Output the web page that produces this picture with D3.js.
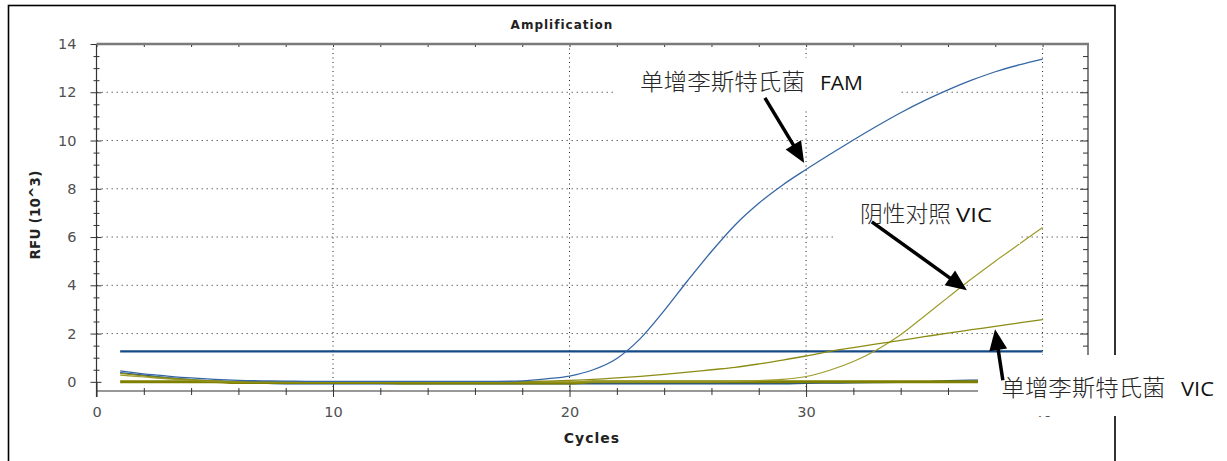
<!DOCTYPE html>
<html>
<head>
<meta charset="utf-8">
<script src="https://cdn.jsdelivr.net/npm/d3@7"></script>
<style>
  body { margin: 0; background: #fff; }
  .tick text { font-family: "DejaVu Sans", sans-serif; font-size: 14.5px; fill: #505050; }
</style>
</head>
<body>
<svg id="chart" width="1227" height="461"></svg>
<script>
"use strict";

// cycle numbers (x)
var cycles = [1, 2, 3, 4, 5, 6, 7, 8, 9, 10, 11, 12, 13, 14, 15, 16, 17, 18, 19, 20,
              21, 22, 23, 24, 25, 26, 27, 28, 29, 30, 31, 32, 33, 34, 35, 36, 37, 38, 39, 40];

// RFU (10^3) per cycle
var famListeria = [0.45, 0.33, 0.24, 0.16, 0.10, 0.06, 0.04, 0.03, 0.02, 0.02,
                   0.02, 0.02, 0.02, 0.02, 0.02, 0.02, 0.02, 0.04, 0.12, 0.24,
                   0.50, 0.97, 1.80, 2.95, 4.20, 5.40, 6.50, 7.40, 8.15, 8.80,
                   9.42, 10.02, 10.60, 11.15, 11.65, 12.10, 12.50, 12.85, 13.13, 13.37];
var vicListeria = [0.35, 0.25, 0.16, 0.09, 0.04, 0.02, 0.01, 0.01, 0.01, 0.01,
                   0.01, 0.01, 0.01, 0.01, 0.01, 0.01, 0.01, 0.01, 0.03, 0.06,
                   0.10, 0.16, 0.23, 0.31, 0.40, 0.50, 0.60, 0.74, 0.90, 1.07,
                   1.26, 1.42, 1.57, 1.72, 1.87, 2.02, 2.16, 2.30, 2.44, 2.58];
var vicNegative = [0.28, 0.20, 0.12, 0.06, 0.02, 0.0, 0.0, 0.0, 0.0, 0.0,
                   0.0, 0.0, 0.0, 0.0, 0.0, 0.0, 0.0, 0.0, 0.0, 0.0,
                   0.0, 0.0, 0.0, 0.0, 0.0, 0.0, 0.02, 0.05, 0.10, 0.22,
                   0.48, 0.84, 1.33, 1.95, 2.72, 3.50, 4.27, 5.00, 5.70, 6.40];
var famNegative = [0.38, 0.27, 0.17, 0.09, 0.03, -0.03, -0.06, -0.08, -0.08, -0.08,
                   -0.08, -0.08, -0.08, -0.08, -0.08, -0.08, -0.08, -0.08, -0.08, -0.08,
                   -0.08, -0.08, -0.08, -0.08, -0.08, -0.08, -0.08, -0.08, -0.08, -0.06,
                   -0.05, -0.04, -0.03, -0.02, 0.0, 0.05, 0.07, 0.07, 0.07, 0.07];
var vicBlank = [0.0, 0.0, 0.0, 0.0, 0.0, -0.03, -0.03, -0.03, -0.03, -0.03,
                -0.03, -0.03, -0.05, -0.05, -0.05, -0.05, -0.05, -0.05, -0.05, -0.05,
                0.0, 0.0, 0.0, 0.0, 0.0, 0.0, 0.0, 0.0, 0.0, 0.0,
                0.0, 0.0, 0.0, 0.0, 0.0, 0.0, 0.0, 0.0, 0.0, 0.0];

var threshold = 1.26;

var yMajorTicks = [0, 2, 4, 6, 8, 10, 12, 14];
var yMinorTicks = [0.5, 1, 1.5, 2.5, 3, 3.5, 4.5, 5, 5.5, 6.5, 7, 7.5, 8.5, 9, 9.5,
                   10.5, 11, 11.5, 12.5, 13, 13.5];
var xMajorTicks = [0, 10, 20, 30, 40];
var xMinorTicks = [2, 4, 6, 8, 12, 14, 16, 18, 22, 24, 26, 28, 32, 34, 36, 38];

var series = [
    { name: 'famNegative', values: famNegative, color: '#1d528f', width: 1.4 },
    { name: 'vicBlank', values: vicBlank, color: '#808000', width: 3 },
    { name: 'vicNegative', values: vicNegative, color: '#9c9c2a', width: 1.2 },
    { name: 'vicListeria', values: vicListeria, color: '#8c8c14', width: 1.3 },
    { name: 'famListeria', values: famListeria, color: '#3567a4', width: 1.3 }
];

var svg = d3.select('#chart');

var x = d3.scaleLinear().domain([0, 41.92]).range([96.5, 1088]);
var y = d3.scaleLinear().domain([-0.38, 14]).range([391, 44]);

var plotLeft = x.range()[0], plotRight = x.range()[1];
var plotTop = y(14), plotBottom = y.range()[0];

// outer frame
svg.append('rect')
    .attr('x', 8.5).attr('y', 5.5)
    .attr('width', 1106.5).attr('height', 470)
    .attr('fill', 'none').attr('stroke', '#000').attr('stroke-width', 1.6);

svg.append('text')
    .attr('x', 562).attr('y', 29)
    .attr('text-anchor', 'middle')
    .style('font-family', '"DejaVu Sans", sans-serif')
    .style('font-weight', 'bold').style('font-size', '12px')
    .style('letter-spacing', '1px').style('fill', '#222')
    .text('Amplification');

// grid
var grid = svg.append('g');
grid.selectAll('line.h')
    .data([2, 4, 6, 8, 10, 12])
    .enter().append('line')
    .attr('x1', plotLeft).attr('x2', plotRight)
    .attr('y1', function(d) { return y(d); }).attr('y2', function(d) { return y(d); })
    .attr('stroke', '#6a6a6a').attr('stroke-width', 1)
    .attr('stroke-dasharray', '1.5,3.5');
grid.selectAll('line.v')
    .data([10, 20, 30, 40])
    .enter().append('line')
    .attr('x1', function(d) { return x(d); }).attr('x2', function(d) { return x(d); })
    .attr('y1', plotTop).attr('y2', plotBottom)
    .attr('stroke', '#222').attr('stroke-width', 1)
    .attr('stroke-dasharray', '1,3.5');

// left axis (ticks cross the line)
function noDomain(g) { g.select('.domain').remove(); }

svg.append('g').attr('transform', 'translate(' + plotLeft + ',0)')
    .call(d3.axisLeft(y).tickValues(yMajorTicks).tickSize(6).tickPadding(14))
    .call(noDomain);
svg.append('g').attr('transform', 'translate(' + plotLeft + ',0)')
    .call(d3.axisRight(y).tickValues(yMajorTicks).tickSize(5).tickFormat(''))
    .call(noDomain);
svg.append('g').attr('transform', 'translate(' + plotLeft + ',0)')
    .call(d3.axisLeft(y).tickValues(yMinorTicks).tickSize(3).tickFormat(''))
    .call(noDomain);
svg.append('g').attr('transform', 'translate(' + plotLeft + ',0)')
    .call(d3.axisRight(y).tickValues(yMinorTicks).tickSize(3).tickFormat(''))
    .call(noDomain);

// right axis
svg.append('g').attr('transform', 'translate(' + plotRight + ',0)')
    .call(d3.axisLeft(y).tickValues(yMajorTicks).tickSize(8).tickFormat(''))
    .call(noDomain);
svg.append('g').attr('transform', 'translate(' + plotRight + ',0)')
    .call(d3.axisLeft(y).tickValues(yMinorTicks).tickSize(5).tickFormat(''))
    .call(noDomain);

// bottom axis
svg.append('g').attr('transform', 'translate(0,' + plotBottom + ')')
    .call(d3.axisBottom(x).tickValues(xMajorTicks).tickSize(6).tickPadding(10))
    .call(noDomain);
svg.append('g').attr('transform', 'translate(0,' + plotBottom + ')')
    .call(d3.axisTop(x).tickValues(xMajorTicks).tickSize(9).tickFormat(''))
    .call(noDomain);
svg.append('g').attr('transform', 'translate(0,' + plotBottom + ')')
    .call(d3.axisBottom(x).tickValues(xMinorTicks).tickSize(4).tickFormat(''))
    .call(noDomain);
svg.append('g').attr('transform', 'translate(0,' + plotBottom + ')')
    .call(d3.axisTop(x).tickValues(xMinorTicks).tickSize(3).tickFormat(''))
    .call(noDomain);

// top edge ticks
svg.append('g').attr('transform', 'translate(0,' + plotTop + ')')
    .call(d3.axisBottom(x).tickValues(xMinorTicks.concat(xMajorTicks)).tickSize(3).tickFormat(''))
    .call(noDomain);

svg.selectAll('.tick line').attr('stroke', '#333');

// axis lines
svg.append('line').attr('x1', plotLeft).attr('x2', plotLeft).attr('y1', plotTop).attr('y2', plotBottom + 6)
    .attr('stroke', '#333').attr('stroke-width', 1.2);
svg.append('line').attr('x1', plotLeft).attr('x2', plotRight).attr('y1', plotBottom).attr('y2', plotBottom)
    .attr('stroke', '#333').attr('stroke-width', 1.2);
svg.append('line').attr('x1', plotRight).attr('x2', plotRight).attr('y1', plotTop).attr('y2', plotBottom)
    .attr('stroke', '#333').attr('stroke-width', 1.2);
svg.append('line').attr('x1', plotLeft).attr('x2', plotRight + 1).attr('y1', plotTop).attr('y2', plotTop)
    .attr('stroke', '#7a7a7a').attr('stroke-width', 2.4);

svg.append('text')
    .attr('x', 592).attr('y', 443)
    .attr('text-anchor', 'middle')
    .style('font-family', '"DejaVu Sans", sans-serif')
    .style('font-weight', 'bold').style('font-size', '14px')
    .style('letter-spacing', '1px').style('fill', '#222')
    .text('Cycles');

svg.append('text')
    .attr('transform', 'translate(40,215) rotate(-90)')
    .attr('text-anchor', 'middle')
    .style('font-family', '"DejaVu Sans", sans-serif')
    .style('font-weight', 'bold').style('font-size', '13.5px')
    .style('letter-spacing', '0.2px').style('fill', '#222')
    .text('RFU (10^3)');

// threshold
svg.append('line')
    .attr('x1', x(cycles[0])).attr('x2', x(cycles[cycles.length - 1]))
    .attr('y1', y(threshold)).attr('y2', y(threshold))
    .attr('stroke', '#134a86').attr('stroke-width', 2.2);

// curves
var line = d3.line()
    .x(function(d, i) { return x(cycles[i]); })
    .y(function(d) { return y(d); })
    .curve(d3.curveMonotoneX);

svg.append('g').selectAll('path')
    .data(series)
    .enter().append('path')
    .attr('d', function(s) { return line(s.values); })
    .attr('fill', 'none')
    .attr('stroke', function(s) { return s.color; })
    .attr('stroke-width', function(s) { return s.width; });

// annotations: white label boxes, arrows, labels
var boxes = [
    { x: 615, y: 58, w: 285, h: 53 },
    { x: 835, y: 200, w: 185, h: 44 },
    { x: 978, y: 355, w: 249, h: 61 }
];
svg.append('g').selectAll('rect')
    .data(boxes)
    .enter().append('rect')
    .attr('x', function(d) { return d.x; }).attr('y', function(d) { return d.y; })
    .attr('width', function(d) { return d.w; }).attr('height', function(d) { return d.h; })
    .attr('fill', '#fff');

var arrows = [
    { tail: [28.26, 11.77], tip: [29.92, 9.07] },
    { tail: [32.78, 6.63], tip: [36.8, 3.80] },
    { tail: [38.32, 0.07], tip: [37.99, 2.18] }
];

arrows.forEach(function(a) {
    var x0 = x(a.tail[0]), y0 = y(a.tail[1]);
    var x1 = x(a.tip[0]), y1 = y(a.tip[1]);
    var dx = x1 - x0, dy = y1 - y0, len = Math.sqrt(dx * dx + dy * dy);
    var ux = dx / len, uy = dy / len;
    var headLen = 21, headW = 9;
    var bx = x1 - ux * headLen, by = y1 - uy * headLen;
    svg.append('line')
        .attr('x1', x0).attr('y1', y0).attr('x2', bx + ux * 2).attr('y2', by + uy * 2)
        .attr('stroke', '#000').attr('stroke-width', 3.5);
    svg.append('polygon')
        .attr('points', [
            [x1, y1],
            [bx - uy * headW, by + ux * headW],
            [bx + uy * headW, by - ux * headW]
        ].map(function(p) { return p.join(','); }).join(' '))
        .attr('fill', '#000');
});

var labels = [
    { zh: '单增李斯特氏菌', zhX: 640, zhW: 165, en: 'FAM', enX: 820, enW: 43, y: 89.5 },
    { zh: '阴性对照', zhX: 860, zhW: 91, en: 'VIC', enX: 956, enW: 36, y: 221.7 },
    { zh: '单增李斯特氏菌', zhX: 1001.5, zhW: 164, en: 'VIC', enX: 1181, enW: 33, y: 395.5 }
];

labels.forEach(function(l) {
    svg.append('text')
        .attr('x', l.zhX).attr('y', l.y)
        .attr('textLength', l.zhW).attr('lengthAdjust', 'spacingAndGlyphs')
        .style('font-family', '"Noto Sans CJK SC", sans-serif')
        .style('font-size', '23px').style('font-weight', 300)
        .style('fill', '#262626')
        .text(l.zh);
    svg.append('text')
        .attr('x', l.enX).attr('y', l.y)
        .attr('textLength', l.enW).attr('lengthAdjust', 'spacingAndGlyphs')
        .style('font-family', '"Open Sans", sans-serif')
        .style('font-size', '20px')
        .style('fill', '#111')
        .text(l.en);
});
</script>
</body>
</html>
